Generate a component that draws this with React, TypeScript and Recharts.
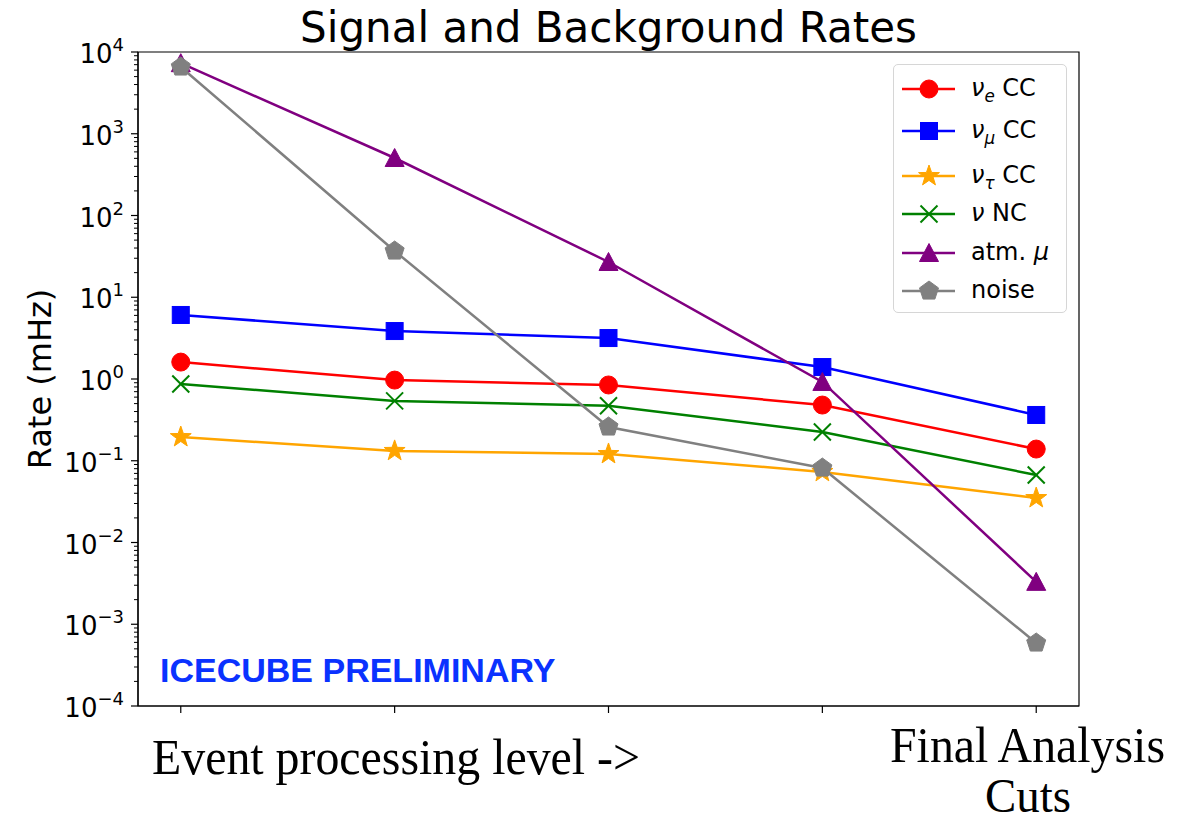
import React from 'react';
import { LineChart, Line, XAxis, YAxis, ReferenceArea, Legend } from 'recharts';

// processing levels, first = event processing, last = final analysis cuts
const levels = [0, 1, 2, 3, 4];

// rates in mHz per level
const nueCC = [1.61, 0.97, 0.845, 0.48, 0.139];
const numuCC = [6.07, 3.86, 3.17, 1.4, 0.363];
const nutauCC = [0.195, 0.132, 0.121, 0.073, 0.035];
const nuNC = [0.87, 0.54, 0.47, 0.225, 0.067];
const atmMu = [7300, 505, 27, 0.92, 0.0033];
const noise = [6560, 36.8, 0.259, 0.0815, 0.00059];

// log axis decades (10^-4 .. 10^4) and minor multipliers
const decades = [-4, -3, -2, -1, 0, 1, 2, 3, 4];
const minorSteps = [2, 3, 4, 5, 6, 7, 8, 9];

const W = 1193;
const H = 826;
const FONT = "'DejaVu Sans', sans-serif";
const SERIF = "'Liberation Serif', 'Times New Roman', serif";

// legend row centres, measured from the top of the legend box
const legendRowY = [24, 66, 111, 149, 188, 226];

type Shape = 'circle' | 'square' | 'star' | 'x' | 'triangle' | 'pentagon';

const sub = (s: string) => <sub style={{ fontSize: '0.7em', lineHeight: 0 }}><i>{s}</i></sub>;

const series: { key: string; values: number[]; color: string; shape: Shape; label: React.ReactNode }[] = [
  { key: 'nueCC', values: nueCC, color: '#ff0000', shape: 'circle', label: <><i>ν</i>{sub('e')} CC</> },
  { key: 'numuCC', values: numuCC, color: '#0000ff', shape: 'square', label: <><i>ν</i>{sub('μ')} CC</> },
  { key: 'nutauCC', values: nutauCC, color: '#ffa500', shape: 'star', label: <><i>ν</i>{sub('τ')} CC</> },
  { key: 'nuNC', values: nuNC, color: '#008000', shape: 'x', label: <><i>ν</i> NC</> },
  { key: 'atmMu', values: atmMu, color: '#800080', shape: 'triangle', label: <>atm. <i>μ</i></> },
  { key: 'noise', values: noise, color: '#808080', shape: 'pentagon', label: <>noise</> },
];

const rows = levels.map((level, i) => {
  const row: Record<string, number> = { level };
  series.forEach((s) => {
    row[s.key] = s.values[i];
  });
  return row;
});

const yTicks: number[] = [];
decades.forEach((d) => {
  yTicks.push(Math.pow(10, d));
  if (d < 4) minorSteps.forEach((m) => yTicks.push(m * Math.pow(10, d)));
});

const polygon = (cx: number, cy: number, n: number, rOuter: number, rInner?: number) => {
  const pts: string[] = [];
  const count = rInner ? n * 2 : n;
  for (let k = 0; k < count; k++) {
    const r = rInner && k % 2 === 1 ? rInner : rOuter;
    const a = -Math.PI / 2 + (k * 2 * Math.PI) / count;
    pts.push(`${cx + r * Math.cos(a)},${cy + r * Math.sin(a)}`);
  }
  return pts.join(' ');
};

const Marker = ({ cx, cy, shape, color }: { cx: number; cy: number; shape: Shape; color: string }) => {
  switch (shape) {
    case 'circle':
      return <circle cx={cx} cy={cy} r={9} fill={color} stroke={color} />;
    case 'square':
      return <rect x={cx - 8.5} y={cy - 8.5} width={17} height={17} fill={color} stroke={color} />;
    case 'star':
      return <polygon points={polygon(cx, cy, 5, 11, 4.4)} fill={color} stroke={color} />;
    case 'x':
      return (
        <g stroke={color} strokeWidth={2}>
          <line x1={cx - 8.5} y1={cy - 8.5} x2={cx + 8.5} y2={cy + 8.5} />
          <line x1={cx - 8.5} y1={cy + 8.5} x2={cx + 8.5} y2={cy - 8.5} />
        </g>
      );
    case 'triangle':
      return <polygon points={`${cx},${cy - 9.5} ${cx - 9.5},${cy + 8.5} ${cx + 9.5},${cy + 8.5}`} fill={color} stroke={color} />;
    case 'pentagon':
      return <polygon points={polygon(cx, cy, 5, 10)} fill={color} stroke={color} />;
  }
};

const YTick = (props: any) => {
  const { x, y, payload } = props;
  const v: number = payload.value;
  const lg = Math.log10(v);
  const exp = Math.round(lg);
  const major = Math.abs(lg - exp) < 1e-6;
  if (!major) {
    return <line x1={x} y1={y} x2={x - 4} y2={y} stroke="#000" strokeWidth={1} />;
  }
  return (
    <g>
      <line x1={x} y1={y} x2={x - 7} y2={y} stroke="#000" strokeWidth={1.2} />
      <text x={x - 14} y={y + 11} textAnchor="end" fontFamily={FONT} fontSize={26} fill="#000">
        10
        <tspan dy={-12} fontSize={18}>{exp < 0 ? `\u2212${-exp}` : `${exp}`}</tspan>
      </text>
    </g>
  );
};

const XTick = (props: any) => {
  const { x, y } = props;
  return <line x1={x} y1={y} x2={x} y2={y + 7} stroke="#000" strokeWidth={1.2} />;
};

const LegendBox = () => (
  <div
    style={{
      width: 174,
      height: 249,
      boxSizing: 'border-box',
      border: '1.5px solid #d6d6d6',
      borderRadius: 5,
      background: 'rgba(255,255,255,0.8)',
      position: 'relative',
      fontFamily: FONT,
      fontSize: 24,
      color: '#000',
    }}
  >
    {series.map((s, i) => (
      <div key={s.key} style={{ position: 'absolute', left: 0, top: legendRowY[i] - 16, height: 32, display: 'flex', alignItems: 'center' }}>
        <svg width={77} height={32} style={{ display: 'block', flex: 'none' }}>
          <line x1={8} y1={16} x2={61} y2={16} stroke={s.color} strokeWidth={2.5} />
          <Marker cx={35} cy={16} shape={s.shape} color={s.color} />
        </svg>
        <span style={{ whiteSpace: 'nowrap', lineHeight: '32px', marginTop: -2 }}>{s.label}</span>
      </div>
    ))}
  </div>
);

export default function App() {
  return (
    <div style={{ position: 'absolute', left: 0, top: 0, width: W, height: H, background: '#fff' }}>
      <LineChart width={W} height={H} data={rows} margin={{ top: 52, right: 114, bottom: 90, left: 18 }}>
        <XAxis
          dataKey="level"
          type="number"
          domain={[-0.2, 4.2]}
          ticks={levels}
          tick={<XTick />}
          tickLine={false}
          tickSize={0}
          tickMargin={0}
          height={30}
          stroke="#000"
          strokeWidth={1.2}
        />
        <YAxis
          type="number"
          scale="log"
          domain={[1e-4, 1e4]}
          allowDataOverflow
          ticks={yTicks}
          interval={0}
          tick={<YTick />}
          tickLine={false}
          tickSize={0}
          tickMargin={0}
          width={120}
          stroke="#000"
          strokeWidth={1.2}
        />
        <ReferenceArea x1={-0.2} x2={4.2} y1={1e-4} y2={1e4} fill="none" stroke="#000" strokeWidth={1.2} />
        {series.map((s) => (
          <Line
            key={s.key}
            type="linear"
            dataKey={s.key}
            stroke={s.color}
            strokeWidth={2.5}
            isAnimationActive={false}
            activeDot={false}
            dot={(p: any) => <Marker key={`${s.key}-${p.index}`} cx={p.cx} cy={p.cy} shape={s.shape} color={s.color} />}
          />
        ))}
        <Legend
          layout="vertical"
          align="center"
          verticalAlign="middle"
          content={() => <LegendBox />}
          wrapperStyle={{ left: 893, top: 64, width: 174, height: 249 }}
        />
      </LineChart>
      <svg width={W} height={H} style={{ position: 'absolute', left: 0, top: 0, pointerEvents: 'none' }}>
        <text x={608.5} y={42} textAnchor="middle" fontFamily={FONT} fontSize={42} fill="#000">
          Signal and Background Rates
        </text>
        <text x={40} y={379} transform="rotate(-90 40 379)" textAnchor="middle" dominantBaseline="central" fontFamily={FONT} fontSize={32} fill="#000">
          Rate (mHz)
        </text>
        <text x={160} y={682} fontFamily="'Liberation Sans', Arial, sans-serif" fontWeight="bold" fontSize={34} fill="#0a32ff">
          ICECUBE PRELIMINARY
        </text>
        <text x={152} y={774} textLength={488} lengthAdjust="spacingAndGlyphs" fontFamily={SERIF} fontSize={51} fill="#000">
          Event processing level -&gt;
        </text>
        <text x={890} y={762} textLength={275} lengthAdjust="spacingAndGlyphs" fontFamily={SERIF} fontSize={51} fill="#000">
          Final Analysis
        </text>
        <text x={985} y={812} textLength={86} lengthAdjust="spacingAndGlyphs" fontFamily={SERIF} fontSize={48} fill="#000">
          Cuts
        </text>
      </svg>
    </div>
  );
}
